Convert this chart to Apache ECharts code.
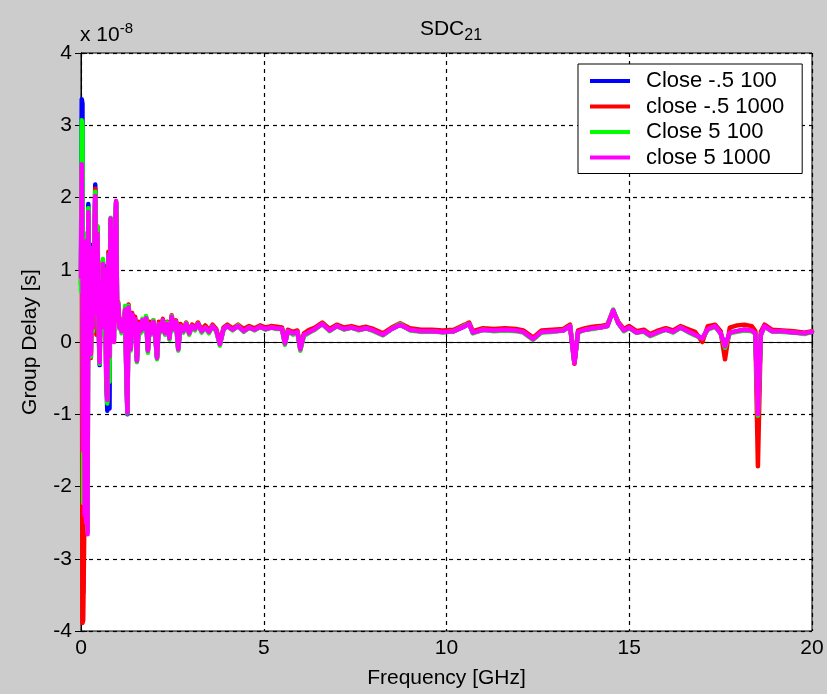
<!DOCTYPE html>
<html><head><meta charset="utf-8">
<script src="https://cdn.jsdelivr.net/npm/echarts@6/dist/echarts.min.js"></script>
<style>html,body{margin:0;padding:0;background:#cccccc}#c{width:827px;height:694px}</style>
</head><body><div id="c"></div>
<script>
const freqGHz = [0.00,0.02,0.04,0.06,0.08,0.10,0.12,0.14,0.16,0.18,
 0.20,0.22,0.25,0.27,0.30,0.33,0.36,0.39,0.42,0.45,
 0.48,0.51,0.54,0.57,0.60,0.63,0.66,0.69,0.72,0.75,
 0.78,0.81,0.84,0.87,0.90,0.93,0.96,0.99,1.02,1.05,
 1.08,1.11,1.14,1.17,1.21,1.24,1.27,1.30,1.33,1.36,
 1.40,1.44,1.48,1.53,1.58,1.63,1.68,1.73,1.78,1.83,
 1.88,1.93,1.98,2.03,2.08,2.13,2.18,2.24,2.30,2.36,
 2.42,2.48,2.54,2.60,2.66,2.72,2.80,2.88,2.96,3.04,
 3.12,3.20,3.30,3.40,3.50,3.60,3.70,3.80,3.90,4.00,
 4.15,4.30,4.45,4.60,4.75,4.90,5.05,5.20,5.35,5.50,
 5.58,5.66,5.80,5.92,6.00,6.10,6.25,6.40,6.60,6.80,
 7.00,7.20,7.40,7.60,7.80,8.00,8.26,8.50,8.73,9.00,
 9.30,9.60,9.90,10.20,10.50,10.62,10.72,11.00,11.30,11.60,
 11.90,12.10,12.37,12.60,12.90,13.20,13.38,13.50,13.60,13.80,
 14.00,14.20,14.40,14.56,14.70,14.85,15.00,15.20,15.40,15.57,
 15.80,16.00,16.20,16.40,16.60,16.80,17.00,17.15,17.35,17.50,
 17.62,17.75,17.95,18.15,18.35,18.45,18.52,18.60,18.70,18.90,
 19.20,19.50,19.80,20.00];

// Group delay in units of 1e-8 s
const closeNeg5_100 = [1.00,3.36,3.30,-3.47,1.20,-1.00,0.95,-2.40,1.50,-2.55,
 1.91,0.65,1.35,-0.15,0.95,0.25,1.15,2.18,0.45,1.55,
 0.25,-0.32,0.85,0.15,1.10,0.35,1.05,-0.50,-0.95,1.20,
 -0.92,1.70,0.12,1.02,0.02,1.40,1.93,0.32,0.50,0.22,
 0.30,0.15,0.28,0.22,0.45,-0.45,-1.00,0.50,0.28,-0.10,
 0.38,0.20,0.32,-0.26,0.25,0.15,0.30,0.18,0.33,-0.12,
 0.25,0.12,0.28,0.10,-0.22,0.25,0.15,0.30,0.12,0.25,
 0.05,0.35,0.18,0.28,-0.10,0.22,0.15,0.25,0.12,0.22,
 0.18,0.25,0.15,0.20,0.14,0.22,0.16,-0.03,0.18,0.22,
 0.17,0.22,0.15,0.20,0.17,0.21,0.18,0.20,0.19,0.18,
 -0.02,0.15,0.12,0.14,-0.10,0.10,0.14,0.18,0.25,0.16,
 0.22,0.18,0.20,0.17,0.19,0.16,0.10,0.18,0.24,0.17,
 0.15,0.15,0.14,0.15,0.22,0.25,0.13,0.17,0.16,0.17,
 0.16,0.14,0.04,0.14,0.15,0.16,0.22,-0.29,0.14,0.17,
 0.19,0.20,0.22,0.44,0.26,0.16,0.20,0.13,0.15,0.09,
 0.14,0.17,0.14,0.20,0.15,0.10,0.05,0.18,0.22,0.12,
 -0.06,0.13,0.15,0.17,0.16,0.12,-1.00,0.10,0.22,0.15,
 0.15,0.13,0.12,0.14];

const closeNeg5_1000 = [0.80,2.40,-3.89,-3.85,-3.00,-2.10,1.10,-2.30,1.45,-2.60,
 1.70,0.40,0.95,-0.22,0.60,0.30,1.00,2.12,0.10,1.60,
 0.50,-0.25,0.75,0.30,1.12,0.45,0.95,-0.45,-0.82,1.25,
 -0.25,1.68,0.18,0.98,0.05,1.38,1.92,0.28,0.55,0.25,
 0.32,0.18,0.30,0.20,0.48,-0.40,-0.95,0.52,0.32,-0.05,
 0.40,0.22,0.35,-0.22,0.28,0.18,0.30,0.22,0.35,-0.10,
 0.28,0.14,0.30,0.12,-0.20,0.28,0.18,0.32,0.12,0.28,
 0.08,0.37,0.20,0.30,-0.08,0.25,0.18,0.27,0.15,0.24,
 0.20,0.27,0.17,0.23,0.16,0.24,0.18,-0.01,0.20,0.24,
 0.19,0.24,0.18,0.22,0.19,0.23,0.20,0.22,0.21,0.20,
 0.00,0.17,0.14,0.16,-0.08,0.12,0.17,0.20,0.27,0.18,
 0.24,0.20,0.22,0.19,0.21,0.18,0.12,0.20,0.26,0.19,
 0.17,0.17,0.16,0.17,0.24,0.27,0.15,0.19,0.18,0.19,
 0.18,0.16,0.06,0.16,0.17,0.18,0.24,-0.30,0.16,0.19,
 0.21,0.22,0.24,0.43,0.28,0.18,0.22,0.15,0.17,0.11,
 0.16,0.19,0.16,0.22,0.18,0.14,0.00,0.22,0.24,0.15,
 -0.24,0.20,0.23,0.24,0.22,0.15,-1.72,0.14,0.24,0.17,
 0.16,0.15,0.13,0.15];

const close5_100 = [0.70,3.07,3.00,-2.23,0.90,-2.00,0.95,-2.40,1.50,-2.62,
 1.85,0.60,1.30,-0.20,0.85,0.15,1.10,2.08,0.40,1.60,
 0.30,-0.30,0.85,0.10,1.15,0.40,1.00,-0.35,-0.85,1.20,
 -0.55,1.72,0.15,1.00,0.00,1.42,1.94,0.30,0.53,0.18,
 0.28,0.12,0.30,0.18,0.50,-0.42,-0.99,0.50,0.30,-0.12,
 0.36,0.20,0.30,-0.28,0.22,0.12,0.32,0.15,0.36,-0.15,
 0.24,0.10,0.30,0.08,-0.24,0.25,0.13,0.30,0.10,0.27,
 0.03,0.36,0.16,0.28,-0.12,0.22,0.13,0.26,0.10,0.22,
 0.16,0.25,0.13,0.20,0.12,0.22,0.15,-0.05,0.18,0.22,
 0.16,0.23,0.14,0.20,0.16,0.21,0.17,0.20,0.18,0.18,
 -0.04,0.15,0.10,0.13,-0.12,0.08,0.13,0.17,0.25,0.15,
 0.22,0.17,0.20,0.16,0.19,0.15,0.09,0.18,0.25,0.16,
 0.14,0.15,0.13,0.15,0.23,0.25,0.12,0.17,0.15,0.16,
 0.15,0.13,0.03,0.13,0.14,0.16,0.22,-0.28,0.13,0.17,
 0.18,0.20,0.22,0.45,0.26,0.15,0.19,0.13,0.14,0.08,
 0.13,0.17,0.13,0.20,0.14,0.09,0.05,0.17,0.21,0.12,
 -0.08,0.12,0.14,0.16,0.15,0.11,-1.02,0.10,0.21,0.15,
 0.14,0.13,0.11,0.14];

const close5_1000 = [0.90,2.46,1.20,-1.50,0.80,-2.40,1.00,-2.50,1.40,-2.66,
 1.80,0.60,1.30,-0.17,0.90,0.20,1.10,2.02,0.40,1.50,
 0.30,-0.28,0.80,0.20,1.08,0.40,1.00,-0.40,-0.80,1.20,
 -0.20,1.71,0.15,1.00,0.00,1.40,1.95,0.30,0.52,0.20,
 0.30,0.15,0.28,0.20,0.45,-0.40,-0.98,0.48,0.30,-0.10,
 0.38,0.20,0.32,-0.26,0.25,0.15,0.30,0.18,0.33,-0.12,
 0.25,0.12,0.28,0.10,-0.22,0.25,0.15,0.30,0.12,0.25,
 0.05,0.35,0.18,0.28,-0.10,0.22,0.15,0.25,0.12,0.22,
 0.18,0.25,0.15,0.20,0.14,0.22,0.16,-0.03,0.18,0.22,
 0.17,0.22,0.15,0.20,0.17,0.21,0.18,0.20,0.19,0.18,
 -0.02,0.15,0.12,0.14,-0.10,0.10,0.14,0.18,0.25,0.16,
 0.22,0.18,0.20,0.17,0.19,0.16,0.10,0.18,0.24,0.17,
 0.15,0.15,0.14,0.15,0.22,0.25,0.13,0.17,0.16,0.17,
 0.16,0.14,0.04,0.14,0.15,0.16,0.22,-0.29,0.14,0.17,
 0.19,0.20,0.22,0.44,0.26,0.16,0.20,0.13,0.15,0.09,
 0.14,0.17,0.14,0.20,0.15,0.10,0.05,0.18,0.22,0.12,
 -0.06,0.13,0.15,0.17,0.16,0.12,-1.00,0.10,0.22,0.15,
 0.15,0.13,0.12,0.14];

const seriesNames = ['Close -.5 100','close -.5 1000','Close 5 100','close 5 1000'];
const seriesColors = ['#0000ff','#ff0000','#00ff00','#ff00ff'];
const seriesValues = [closeNeg5_100, closeNeg5_1000, close5_100, close5_1000];
const xTicks = [0,5,10,15,20];
const yTicks = [-4,-3,-2,-1,0,1,2,3,4];

const FONT = "'Liberation Sans', Arial, sans-serif";
const chart = echarts.init(document.getElementById('c'), null, {renderer:'canvas'});

const gridLine = {show:true, lineStyle:{color:'#000', width:1.2, type:[4,4]}};
const tickIn = {show:true, inside:true, length:6, lineStyle:{color:'#000', width:1}};

chart.setOption({
  backgroundColor:'#cccccc',
  animation:false,
  textStyle:{fontFamily:FONT},
  title:{
    text:'SDC{s|21}', left:446, textAlign:'center', top:9,
    textStyle:{fontFamily:FONT, fontSize:21, fontWeight:'normal', color:'#000',
      rich:{s:{fontFamily:FONT, fontSize:16, color:'#000', verticalAlign:'bottom', padding:[14,0,0,0]}}}
  },
  graphic:[{
    type:'text', left:80, top:21,
    style:{text:'x 10{sup|-8}', fontFamily:FONT, fontSize:21, fill:'#000',
      rich:{sup:{fontFamily:FONT, fontSize:15, fill:'#000', verticalAlign:'top', padding:[0,0,14,0]}}}
  }],
  legend:{
    orient:'vertical', left:578, top:64,
    backgroundColor:'#fff', borderColor:'#000', borderWidth:1, borderRadius:0,
    padding:[6,18,5,12], itemGap:3.5, itemWidth:40, itemHeight:4,
    icon:'rect',
    textStyle:{fontFamily:FONT, fontSize:22, color:'#000', padding:[0,0,0,11]},
    data:seriesNames
  },
  grid:{left:81, right:15, top:53, bottom:63, show:true, backgroundColor:'#fff', borderColor:'#000', borderWidth:1},
  xAxis:[{
    type:'value', min:xTicks[0], max:xTicks[xTicks.length-1], interval:5,
    name:'Frequency [GHz]', nameLocation:'middle', nameGap:37,
    nameTextStyle:{fontFamily:FONT, fontSize:21, color:'#000'},
    axisLine:{show:true, lineStyle:{color:'#000'}},
    axisTick:tickIn, splitLine:gridLine,
    axisLabel:{fontFamily:FONT, fontSize:21, color:'#000', margin:7}
  },{
    type:'value', position:'top', min:xTicks[0], max:xTicks[xTicks.length-1], interval:5,
    axisLine:{show:true, lineStyle:{color:'#000'}}, axisTick:tickIn,
    axisLabel:{show:false}, splitLine:{show:false}
  }],
  yAxis:[{
    type:'value', min:yTicks[0], max:yTicks[yTicks.length-1], interval:1,
    name:'Group Delay [s]', nameLocation:'middle', nameGap:40, nameRotate:90,
    nameTextStyle:{fontFamily:FONT, fontSize:21, color:'#000'},
    axisLine:{show:true, lineStyle:{color:'#000'}},
    axisTick:tickIn, splitLine:gridLine,
    axisLabel:{fontFamily:FONT, fontSize:21, color:'#000', margin:9}
  },{
    type:'value', position:'right', min:yTicks[0], max:yTicks[yTicks.length-1], interval:1,
    axisLine:{show:true, lineStyle:{color:'#000'}}, axisTick:tickIn,
    axisLabel:{show:false}, splitLine:{show:false}
  }],
  series: seriesNames.map((n,i)=>({
    name:n, type:'line', xAxisIndex:0, yAxisIndex:0,
    data: freqGHz.map((f,k)=>[f, seriesValues[i][k]]),
    showSymbol:false, symbol:'none',
    lineStyle:{color:seriesColors[i], width:4.5, join:'round', cap:'round'},
    itemStyle:{color:seriesColors[i]},
    z:2+i
  }))
});
</script></body></html>
